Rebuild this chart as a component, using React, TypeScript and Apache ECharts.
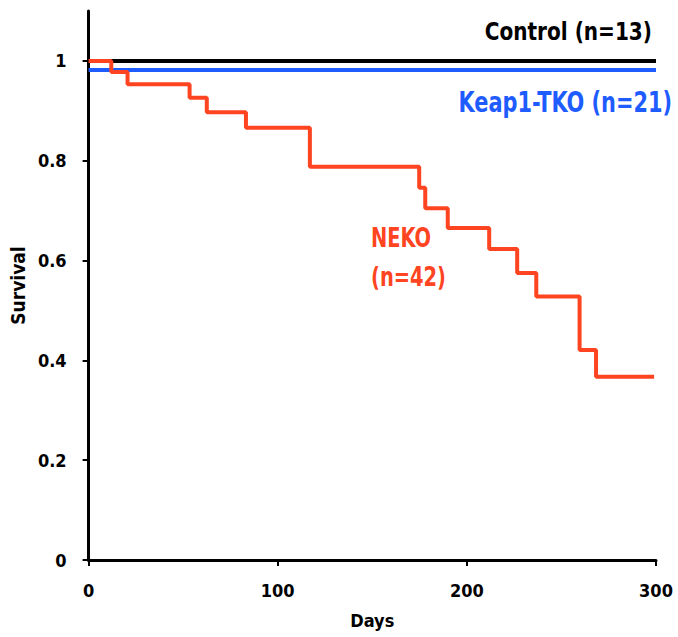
import React, { useEffect, useRef } from "react";
import * as echarts from "echarts";

const xTicks = [0, 100, 200, 300];
const yTicks = [0, 0.2, 0.4, 0.6, 0.8, 1];

const controlData: [number, number][] = [
  [0, 1],
  [300, 1],
];
const keap1Data: [number, number][] = [
  [0, 0.982],
  [300, 0.982],
];
const nekoDays = [0, 12, 20.6, 53.4, 62.5, 83.2, 117, 174.8, 178, 189.9, 211.8, 226.6, 236.7, 259.6, 268.3, 299];
const nekoSurv = [1, 0.978, 0.953, 0.926, 0.897, 0.866, 0.788, 0.746, 0.705, 0.665, 0.623, 0.575, 0.528, 0.421, 0.367, 0.367];

const FONT = "'Liberation Sans Narrow', 'DejaVu Sans Condensed', sans-serif";
const RED = "#ff4422";
const BLUE = "#1f5cff";

export default function App() {
  const ref = useRef<HTMLDivElement>(null);
  useEffect(() => {
    document.body.style.margin = "0";
    const chart = echarts.init(ref.current!, null, { renderer: "svg" });
    const nekoData = nekoDays.map((d, i) => [d, nekoSurv[i]]);
    chart.setOption({
      animation: false,
      backgroundColor: "#fff",
      grid: { left: 88.5, right: 22, top: 11, bottom: 77 },
      xAxis: {
        type: "value",
        min: 0,
        max: 300,
        interval: 100,
        name: "Days",
        nameLocation: "middle",
        nameGap: 51,
        nameTextStyle: { fontFamily: FONT, fontWeight: "bold", fontSize: 18, color: "#000" },
        axisLine: { show: true, lineStyle: { color: "#000", width: 3 } },
        axisTick: { show: true, length: 6, lineStyle: { color: "#000", width: 2 }, customValues: xTicks },
        axisLabel: { customValues: xTicks, margin: 21, fontFamily: FONT, fontWeight: "bold", fontSize: 18, color: "#000" },
        splitLine: { show: false },
      },
      yAxis: {
        type: "value",
        min: 0,
        max: 1.1,
        interval: 0.2,
        name: "Survival",
        nameLocation: "middle",
        nameGap: 58,
        nameRotate: 90,
        nameTextStyle: { fontFamily: FONT, fontWeight: "bold", fontSize: 19, color: "#000" },
        axisLine: { show: true, lineStyle: { color: "#000", width: 3 } },
        axisTick: { show: true, length: 6, lineStyle: { color: "#000", width: 2 }, customValues: yTicks },
        axisLabel: { customValues: yTicks, margin: 22, fontFamily: FONT, fontWeight: "bold", fontSize: 18, color: "#000" },
        splitLine: { show: false },
      },
      series: [
        {
          name: "Control",
          type: "line",
          data: controlData,
          symbol: "none",
          lineStyle: { color: "#000", width: 4 },
          z: 3,
        },
        {
          name: "Keap1-TKO",
          type: "line",
          data: keap1Data,
          symbol: "none",
          lineStyle: { color: BLUE, width: 4 },
          z: 3,
        },
        {
          name: "NEKO",
          type: "line",
          step: "end",
          data: nekoData,
          symbol: "none",
          lineStyle: { color: RED, width: 4 },
          z: 4,
        },
      ],
      graphic: [
        {
          type: "text",
          x: 652,
          y: 19,
          scaleX: 0.93,
          style: { text: "Control (n=13)", fill: "#000", font: `bold 24px ${FONT}`, align: "right", verticalAlign: "top" },
        },
        {
          type: "text",
          x: 672,
          y: 88,
          scaleX: 0.8,
          style: { text: "Keap1-TKO (n=21)", fill: BLUE, font: `bold 29px ${FONT}`, align: "right", verticalAlign: "top" },
        },
        {
          type: "text",
          x: 371,
          y: 218,
          scaleX: 0.8,
          style: { text: "NEKO\n(n=42)", fill: RED, font: `bold 27px ${FONT}`, lineHeight: 39, align: "left", verticalAlign: "top" },
        },
      ],
    });
    return () => chart.dispose();
  }, []);
  return <div ref={ref} style={{ width: 678, height: 637 }} />;
}
